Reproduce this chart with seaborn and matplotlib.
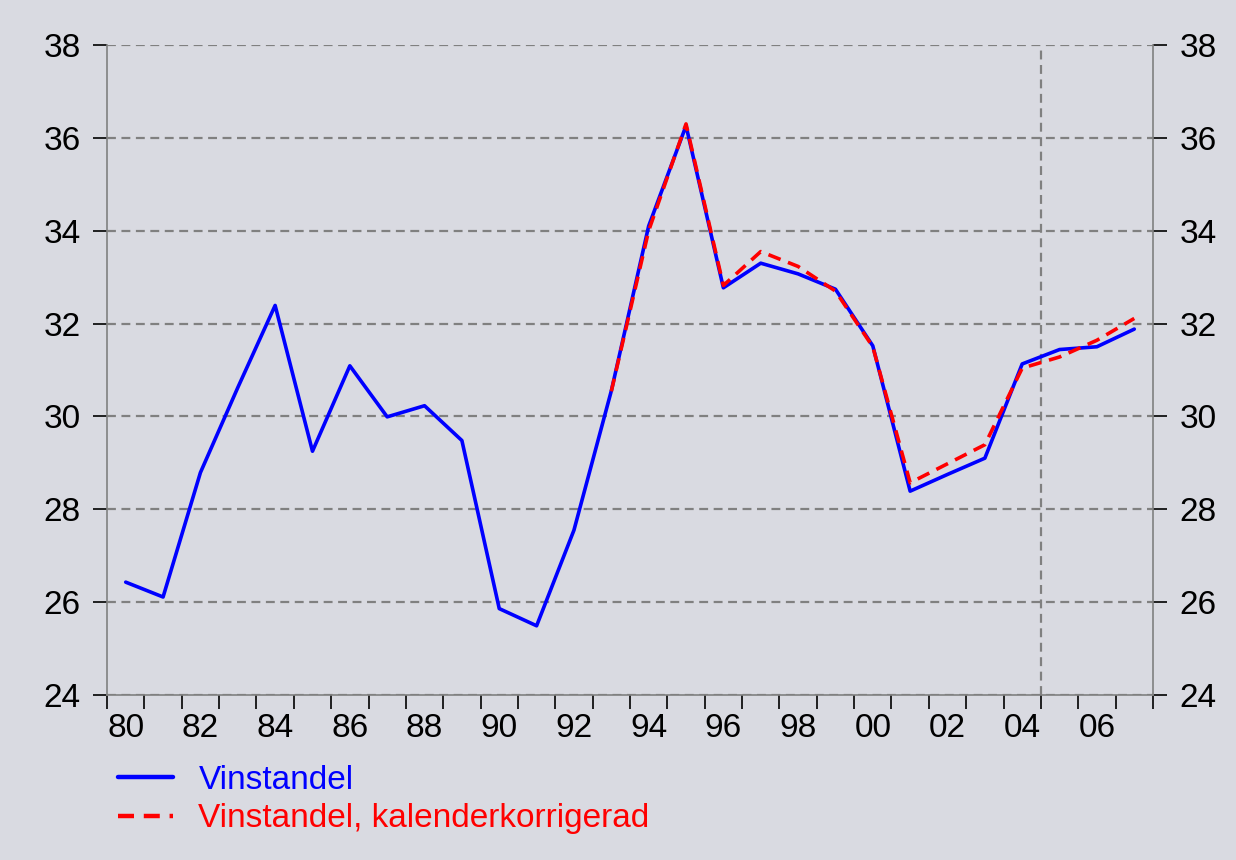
import numpy as np
import pandas as pd
import matplotlib
matplotlib.use("Agg")
import matplotlib.pyplot as plt
import seaborn as sns

# Data
years = list(range(1980, 2008))
vinstandel = [26.43, 26.11, 28.79, 30.62, 32.39, 29.25, 31.09, 29.99, 30.23, 29.48,
              25.86, 25.49, 27.55, 30.55, 34.10, 36.26, 32.77, 33.30, 33.07, 32.74,
              31.52, 28.39, 28.75, 29.10, 31.13, 31.44, 31.50, 31.88]
kalender = [np.nan] * 13 + [30.54, 34.00, 36.30, 32.82, 33.55, 33.23, 32.70,
                            31.50, 28.57, 28.98, 29.39, 31.04, 31.28, 31.64, 32.11]
tick_labels = ["80", "82", "84", "86", "88", "90", "92", "94", "96", "98",
               "00", "02", "04", "06"]
y_ticks = [24, 26, 28, 30, 32, 34, 36, 38]

df = pd.DataFrame({"year": years, "Vinstandel": vinstandel,
                   "Vinstandel, kalenderkorrigerad": kalender})

bg = "#d9dae1"
sns.set_theme(style="white")
plt.rcParams["font.family"] = ["Liberation Sans", "DejaVu Sans"]

fig = plt.figure(figsize=(12.36, 8.6), dpi=100, facecolor=bg)
ax = fig.add_axes([0.0866, 0.1919, 0.8462, 0.7558])
ax.set_facecolor(bg)

sns.lineplot(data=df, x="year", y="Vinstandel", ax=ax, color="#0000ff",
             linewidth=2.6, label="Vinstandel")
sns.lineplot(data=df, x="year", y="Vinstandel, kalenderkorrigerad", ax=ax,
             color="#ff0000", linewidth=2.6, linestyle=(0, (3.6, 2.2)),
             label="Vinstandel, kalenderkorrigerad")

ax.set_xlim(1979.5, 2007.5)
ax.set_ylim(24, 38)
ax.set_xlabel("")
ax.set_ylabel("")

# horizontal grid lines
for yv in y_ticks:
    ax.axhline(yv, color="#808080", linewidth=1.6, linestyle=(0, (4, 2.5)), zorder=0)
ax.axvline(2004.5, color="#808080", linewidth=1.6, linestyle=(0, (4, 2.5)), zorder=0)

# x ticks: marks at year boundaries, labels at centres of even years
ax.set_xticks(np.arange(1979.5, 2008, 1))
ax.set_xticklabels([])
ax.set_xticks(years[::2], minor=True)
ax.set_xticklabels(tick_labels, minor=True)
ax.tick_params(axis="x", which="major", direction="out", length=10, width=1.2,
               color="black", bottom=True)
ax.tick_params(axis="x", which="minor", length=0, labelsize=24, pad=13,
               labelcolor="black", bottom=True)

ax.set_yticks(y_ticks)
ax.tick_params(axis="y", direction="out", length=10, width=1.2, color="black",
               labelsize=24, pad=9, left=True, right=True,
               labelleft=True, labelright=True, labelcolor="black")

for side in ["left", "right", "bottom"]:
    ax.spines[side].set_color("#808080")
    ax.spines[side].set_linewidth(1.2)
ax.spines["top"].set_visible(False)

ax.get_legend().remove()
handles, labels = ax.get_legend_handles_labels()
leg = fig.legend(handles, labels, loc="upper left", bbox_to_anchor=(0.085, 0.126),
                 frameon=False, fontsize=24, handlelength=1.65, handletextpad=0.75,
                 labelspacing=0.22, borderaxespad=0)
for txt, c in zip(leg.get_texts(), ["#0000ff", "#ff0000"]):
    txt.set_color(c)
for ln in leg.get_lines():
    ln.set_linewidth(3.2)

fig.savefig("out.png", dpi=100, facecolor=bg)
